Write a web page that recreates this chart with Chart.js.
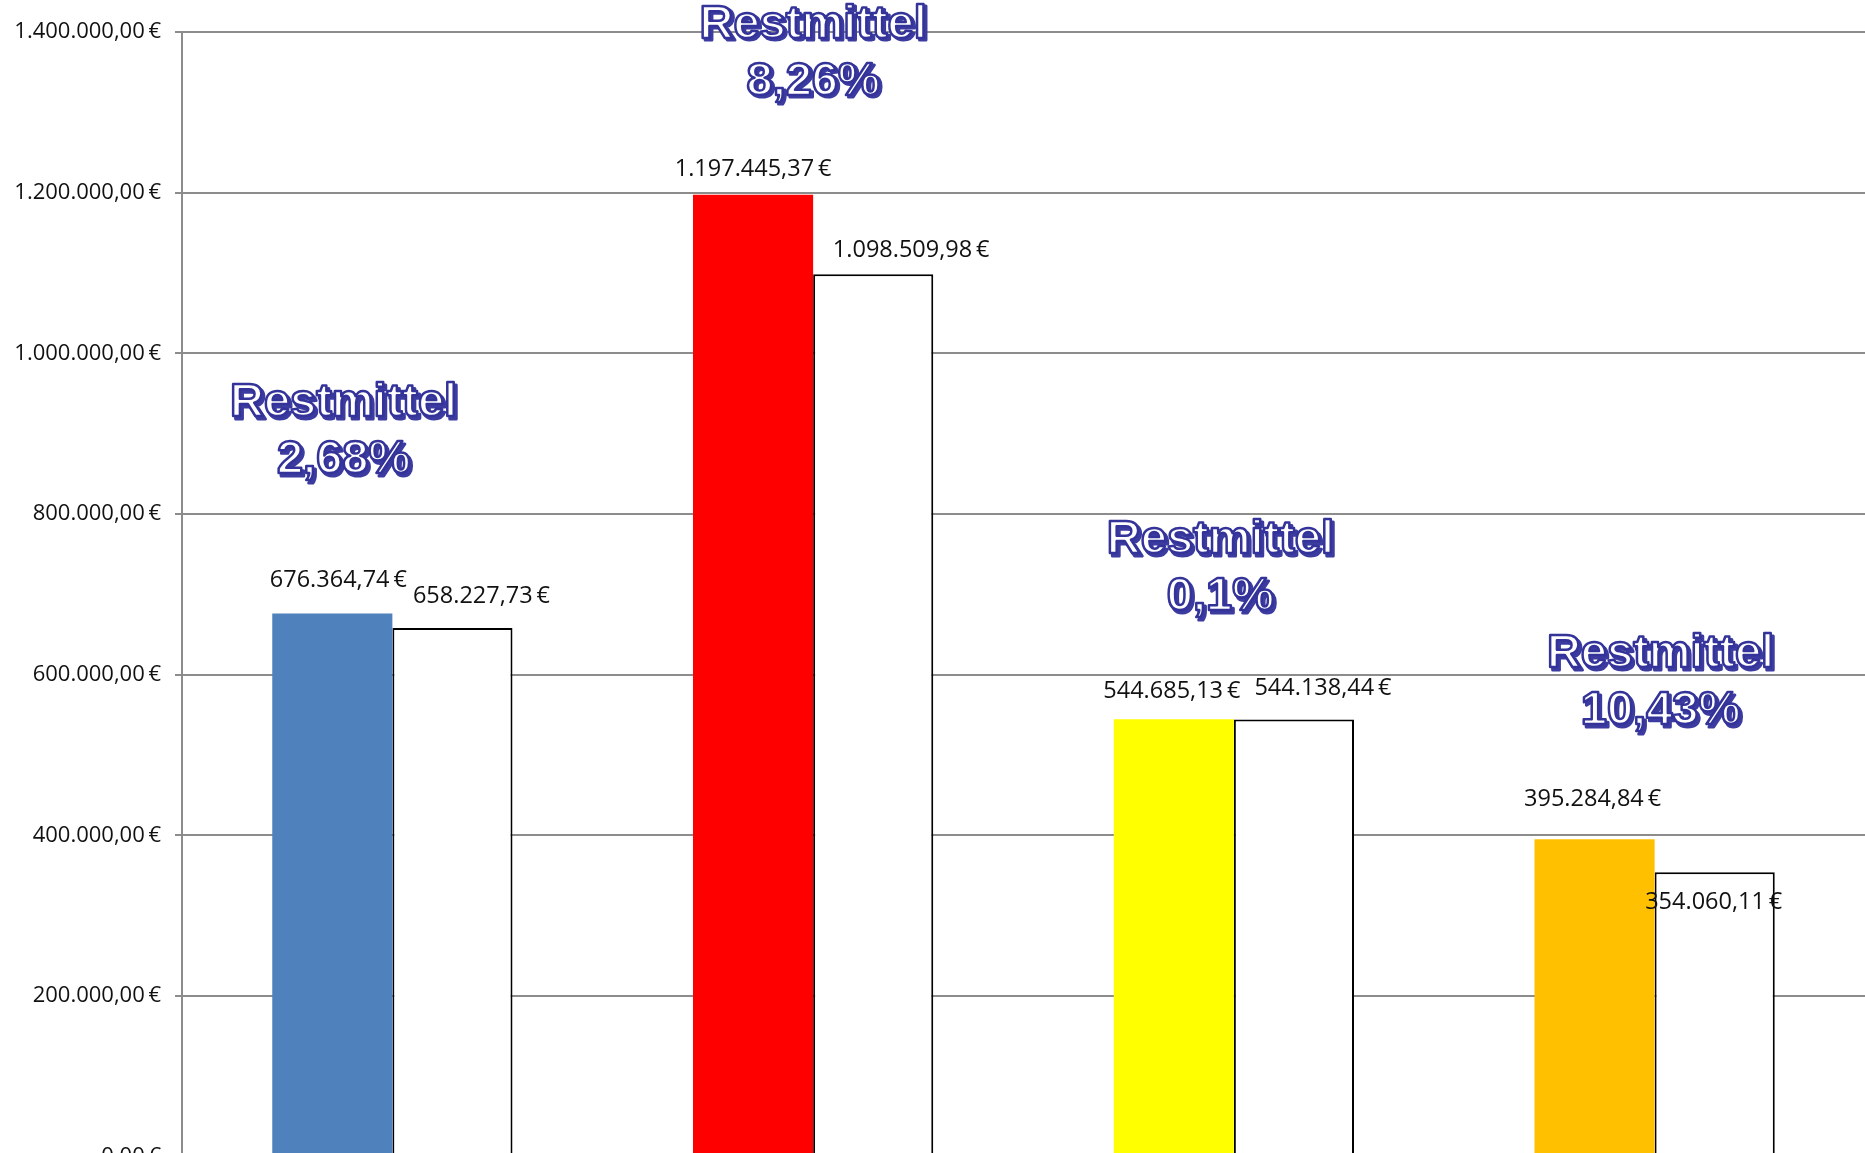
<!DOCTYPE html>
<html>
<head>
<meta charset="utf-8">
<style>
  html, body { margin: 0; padding: 0; background: #fff; overflow: hidden; }
  #wrap { width: 1865px; height: 1184px; position: relative; }
</style>
<script src="https://cdn.jsdelivr.net/npm/chart.js@4"></script>
</head>
<body>
<div id="wrap"><canvas id="budgetChart"></canvas></div>
<script>
// categories and values
const categories = ['A', 'B', 'C', 'D'];
const planned = [676364.74, 1197445.37, 544685.13, 395284.84];
const spent = [658227.73, 1098509.98, 544138.44, 354060.11];
const plannedColors = ['#4F81BD', '#FF0000', '#FFFF00', '#FFC000'];
const yTicks = [0, 200000, 400000, 600000, 800000, 1000000, 1200000, 1400000];

// "Restmittel" notes, one per category
const restLabels = ['2,68%', '8,26%', '0,1%', '10,43%'];
const restX = [-0.116, 0, -0.032, 0.014];          // offset in category units
const restY = [937800, 1408900, 767400, 625200];    // y value of first line

// hand-placed data label offsets (pixels from bar top centre)
const plannedLabelOffset = [[6, -33], [0, -25], [-2, -28], [-2, -40]];
const spentLabelOffset = [[29, -32], [38, -24], [29, -31], [-1, 30]];

function fmtEuro(v) {
    const parts = v.toFixed(2).split('.');
    const int = parts[0].replace(/\B(?=(\d{3})+(?!\d))/g, '.');
    return int + ',' + parts[1] + '\u2009€';
}

const valueLabels = {
    id: 'valueLabels',
    afterDatasetsDraw(chart) {
        const ctx = chart.ctx;
        ctx.save();
        ctx.font = '23.5px "Open Sans"';
        ctx.fillStyle = '#111';
        ctx.textAlign = 'center';
        ctx.textBaseline = 'middle';
        const offsets = [plannedLabelOffset, spentLabelOffset];
        chart.data.datasets.forEach((ds, di) => {
            chart.getDatasetMeta(di).data.forEach((bar, i) => {
                const o = offsets[di][i];
                ctx.fillText(fmtEuro(ds.data[i]), bar.x + o[0], bar.y + o[1]);
            });
        });
        ctx.restore();
    }
};

const restNotes = {
    id: 'restNotes',
    afterDraw(chart) {
        const ctx = chart.ctx;
        const xs = chart.scales.x, ys = chart.scales.y;
        ctx.save();
        ctx.font = 'bold 47px "Liberation Sans"';
        ctx.textAlign = 'center';
        ctx.textBaseline = 'middle';
        ctx.lineJoin = 'round';
        restLabels.forEach((txt, i) => {
            const x = xs.getPixelForValue(i + restX[i]);
            const y = ys.getPixelForValue(restY[i]);
            [['Restmittel', y], [txt, y + 57]].forEach(([t, ty]) => {
                // shadow
                ctx.fillStyle = '#3B3BA0';
                ctx.strokeStyle = '#3B3BA0';
                ctx.lineWidth = 3;
                ctx.fillText(t, x + 2.5, ty + 2.5);
                ctx.strokeText(t, x + 2.5, ty + 2.5);
                // face
                ctx.fillStyle = '#fff';
                ctx.fillText(t, x, ty);
                ctx.strokeStyle = '#33339A';
                ctx.lineWidth = 2.5;
                ctx.strokeText(t, x, ty);
            });
        });
        ctx.restore();
    }
};

new Chart(document.getElementById('budgetChart'), {
    type: 'bar',
    data: {
        labels: categories,
        datasets: [{
            data: planned,
            backgroundColor: plannedColors,
            borderWidth: 0,
            categoryPercentage: 0.571,
            barPercentage: 1.0
        }, {
            data: spent,
            backgroundColor: '#FFFFFF',
            borderColor: '#000000',
            borderWidth: 2,
            categoryPercentage: 0.571,
            barPercentage: 1.0
        }]
    },
    options: {
        responsive: true,
        maintainAspectRatio: false,
        animation: false,
        layout: { padding: { top: 32, bottom: 20, left: 0, right: 0 } },
        plugins: {
            legend: { display: false },
            tooltip: { enabled: false }
        },
        scales: {
            x: { display: false },
            y: {
                min: 0,
                max: 1400000,
                afterBuildTicks(scale) {
                    scale.ticks = yTicks.map(v => ({ value: v }));
                },
                afterFit(scale) { scale.width = 182; },
                border: { color: '#8C8C8C', width: 2 },
                grid: { color: '#8C8C8C', lineWidth: 2, tickLength: 7 },
                ticks: {
                    padding: 14,
                    color: '#111',
                    font: { family: '"Open Sans"', size: 22 },
                    callback: v => fmtEuro(v)
                }
            }
        }
    },
    plugins: [valueLabels, restNotes]
});
</script>
</body>
</html>
